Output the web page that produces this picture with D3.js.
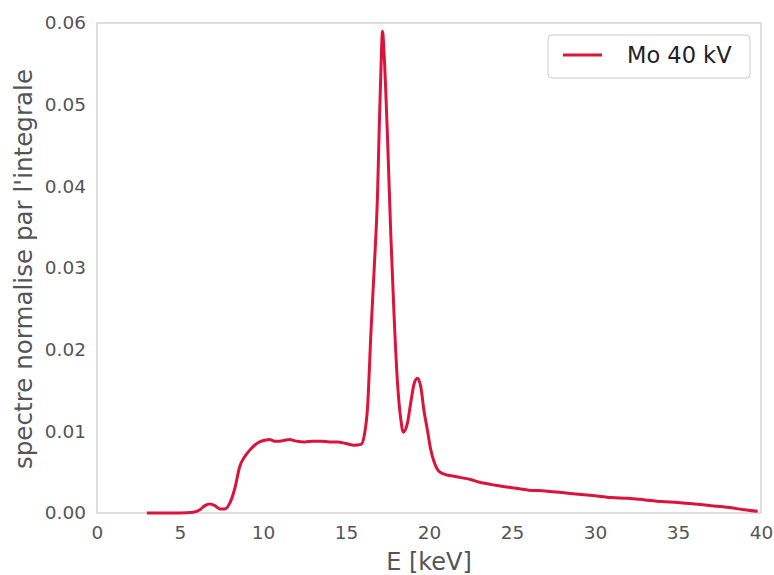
<!DOCTYPE html>
<html><head><meta charset="utf-8">
<script src="https://cdn.jsdelivr.net/npm/d3@7"></script>
<style>
html,body{margin:0;padding:0;background:#fff;}
svg text{font-family:"DejaVu Sans",sans-serif;}
</style></head>
<body><svg id="c" width="774" height="575"></svg>
<script>
const energy = [3,4,5,5.8,6.2,6.5,6.8,7.1,7.4,7.7,8.0,8.3,8.6,8.9,9.2,9.5,9.8,10.1,10.4,10.7,11.0,11.3,11.6,12.0,12.5,13.0,13.5,14.0,14.5,15.0,15.5,15.9,16.1,16.3,16.5,16.7,16.9,17.0,17.1,17.2,17.3,17.5,17.7,17.9,18.1,18.3,18.45,18.7,18.9,19.1,19.3,19.5,19.7,19.9,20.1,20.3,20.6,21.0,21.5,22.0,22.5,23,24,25,26,27,28,29,30,31,32,33,34,35,36,37,38,39,39.8];
const spectrum = [0,0,0,0.0001,0.0004,0.0009,0.0011,0.0009,0.0005,0.0005,0.0012,0.003,0.0057,0.0069,0.0077,0.0083,0.0087,0.0089,0.009,0.0088,0.0088,0.0089,0.009,0.0088,0.0087,0.0088,0.0088,0.0087,0.0087,0.0085,0.0083,0.0084,0.0095,0.013,0.022,0.030,0.039,0.047,0.054,0.059,0.056,0.046,0.034,0.024,0.016,0.0115,0.0099,0.011,0.0135,0.0158,0.0165,0.0155,0.0125,0.0102,0.0078,0.0063,0.0051,0.0047,0.0045,0.0043,0.0041,0.0038,0.0034,0.0031,0.0028,0.0027,0.0025,0.0023,0.0021,0.0019,0.0018,0.0016,0.0014,0.0013,0.0011,0.0009,0.0007,0.0004,0.0002];
const xTicks = [0,5,10,15,20,25,30,35,40];
const yTicks = [0,0.01,0.02,0.03,0.04,0.05,0.06];
const seriesName = "Mo 40 kV";
const xLabel = "E [keV]";
const yLabel = "spectre normalise par l'integrale";

const svg = d3.select("#c");
const L = 97, R = 761, T = 23, B = 513;
const x = d3.scaleLinear().domain([0,40]).range([L,R]);
const y = d3.scaleLinear().domain([0,0.06]).range([B,T]);

// frame
svg.append("rect").attr("x",L).attr("y",T).attr("width",R-L).attr("height",B-T)
  .attr("fill","none").attr("stroke","#cccccc").attr("stroke-width",1.3);

const xa = svg.append("g").attr("transform",`translate(0,${B})`)
  .call(d3.axisBottom(x).tickValues(xTicks).tickFormat(d3.format("d")).tickSize(0).tickPadding(13));
const ya = svg.append("g").attr("transform",`translate(${L},0)`)
  .call(d3.axisLeft(y).tickValues(yTicks).tickFormat(d3.format(".2f")).tickSize(0).tickPadding(11));
[xa,ya].forEach(a=>{
  a.select(".domain").remove();
  a.selectAll("text").attr("fill","#555555").style("font-size","18.5px").style("font-family","DejaVu Sans");
});

svg.append("text").attr("x",(L+R)/2).attr("y",570).attr("text-anchor","middle")
  .attr("fill","#555555").style("font-size","24px").text(xLabel);
svg.append("text").attr("transform",`translate(32,${(T+B)/2+1}) rotate(-90)`).attr("text-anchor","middle")
  .attr("fill","#555555").style("font-size","24.6px").text(yLabel);

const line = d3.line().x((d,i)=>x(energy[i])).y(d=>y(d)).curve(d3.curveMonotoneX);
svg.append("path").datum(spectrum).attr("d",line).attr("fill","none")
  .attr("stroke","#dc143c").attr("stroke-width",3).attr("stroke-linejoin","round");

// legend
const lg = svg.append("g");
lg.append("rect").attr("x",548).attr("y",35).attr("width",202).attr("height",43).attr("rx",4)
  .attr("fill","#fff").attr("stroke","#cccccc").attr("stroke-width",1);
lg.append("line").attr("x1",563).attr("x2",602).attr("y1",55).attr("y2",55)
  .attr("stroke","#dc143c").attr("stroke-width",3);
lg.append("text").attr("x",627).attr("y",63).attr("fill","#222").style("font-size","22.5px").text(seriesName);
</script></body></html>
